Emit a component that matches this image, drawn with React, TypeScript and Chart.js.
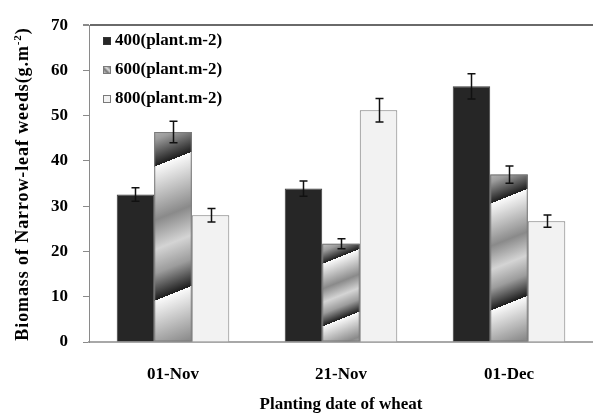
import React, { useEffect, useRef } from "react";
import { Chart, registerables } from "chart.js";

Chart.register(...registerables);

const categories = ["01-Nov", "21-Nov", "01-Dec"];
const seriesLabels = ["400(plant.m-2)", "600(plant.m-2)", "800(plant.m-2)"];
const s400 = [32.6, 33.9, 56.5];
const s600 = [46.4, 21.7, 37.0];
const s800 = [28.0, 51.2, 26.7];
const e400 = [1.5, 1.7, 2.8];
const e600 = [2.4, 1.1, 1.9];
const e800 = [1.5, 2.6, 1.35];
const yTicks = [0, 10, 20, 30, 40, 50, 60, 70];

const FONT = '"Liberation Serif", "Times New Roman", serif';
const profile: [number, string][] = [
  [0, "#fbfbfb"],
  [0.4, "#8a8a8a"],
  [0.62, "#d4d4d4"],
  [0.8, "#9c9c9c"],
  [1, "#1c1c1c"],
];

function stripeGradient(ctx: CanvasRenderingContext2D, xL: number, yT: number, w: number, h: number) {
  const slope = 0.4;
  const period = 0.64 * h;
  const uEdge = slope * (xL + w / 2) + yT + 0.13 * h;
  const uA = slope * xL + yT;
  const uB = slope * (xL + w) + yT + h;
  const kStart = Math.floor((uA - uEdge) / period);
  const kEnd = Math.ceil((uB - uEdge) / period);
  const uStart = uEdge + kStart * period;
  const uEnd = uEdge + kEnd * period;
  const c = (uEnd - uStart) / (slope * slope + 1);
  const g = ctx.createLinearGradient(0, uStart, c * slope, uStart + c);
  const n = kEnd - kStart;
  for (let k = 0; k < n; k++) {
    for (const [s, col] of profile) {
      g.addColorStop(Math.max(0, Math.min(1, (k + s) / n)), col);
    }
  }
  return g;
}

const errors = [e400, e600, e800];

const customPlugin = {
  id: "custom",
  afterDatasetDraw(chart: any, args: any) {
    if (args.index !== 1) return;
    const ctx = chart.ctx;
    const meta = chart.getDatasetMeta(1);
    meta.data.forEach((el: any) => {
      const { x, y, base, width } = el.getProps(["x", "y", "base", "width"], true);
      const xL = x - width / 2;
      const h = base - y;
      ctx.save();
      ctx.fillStyle = stripeGradient(ctx, xL, y, width, h);
      ctx.fillRect(xL, y, width, h);
      ctx.strokeStyle = "#7a7a7a";
      ctx.lineWidth = 1;
      ctx.strokeRect(xL + 0.5, y + 0.5, width - 1, h - 1);
      ctx.restore();
    });
  },
  afterDatasetsDraw(chart: any) {
    const ctx = chart.ctx;
    const yScale = chart.scales.y;
    ctx.save();
    ctx.strokeStyle = "#111";
    ctx.lineWidth = 1.5;
    chart.data.datasets.forEach((ds: any, di: number) => {
      const meta = chart.getDatasetMeta(di);
      meta.data.forEach((el: any, i: number) => {
        const v = ds.data[i];
        const e = errors[di][i];
        const yT = yScale.getPixelForValue(v + e);
        const yB = yScale.getPixelForValue(v - e);
        const x = Math.round(el.x) + 0.5;
        ctx.beginPath();
        ctx.moveTo(x, yT);
        ctx.lineTo(x, yB);
        ctx.moveTo(x - 4, yT);
        ctx.lineTo(x + 4, yT);
        ctx.moveTo(x - 4, yB);
        ctx.lineTo(x + 4, yB);
        ctx.stroke();
      });
    });
    ctx.restore();
  },
  afterDraw(chart: any) {
    const ctx = chart.ctx;
    ctx.save();
    // legend
    const lx = 103;
    const rows = [41, 70, 99];
    ctx.font = `bold 17px ${FONT}`;
    ctx.textBaseline = "middle";
    ctx.textAlign = "left";
    rows.forEach((ry, i) => {
      const bx = lx, by = ry - 4, bs = 8;
      if (i === 0) ctx.fillStyle = "#262626";
      else if (i === 1) {
        const g = ctx.createLinearGradient(bx, by + bs, bx + bs, by);
        g.addColorStop(0, "#eee");
        g.addColorStop(0.4, "#777");
        g.addColorStop(0.6, "#ddd");
        g.addColorStop(1, "#444");
        ctx.fillStyle = g;
      } else ctx.fillStyle = "#f2f2f2";
      ctx.fillRect(bx, by, bs, bs);
      ctx.strokeStyle = i === 0 ? "#333" : "#7a7a7a";
      ctx.lineWidth = 1;
      ctx.strokeRect(bx + 0.5, by + 0.5, bs - 1, bs - 1);
      ctx.fillStyle = "#000";
      ctx.fillText(seriesLabels[i], 115, ry);
    });
    // y title
    ctx.translate(22, 184);
    ctx.rotate(-Math.PI / 2);
    (ctx as any).letterSpacing = "0.9px";
    const main = "Biomass of Narrow-leaf weeds(g.m";
    const sup = "-2";
    const close = ")";
    const fMain = `bold 18px ${FONT}`;
    const fSup = `bold 11px ${FONT}`;
    ctx.font = fMain;
    const wMain = ctx.measureText(main).width;
    const wClose = ctx.measureText(close).width;
    ctx.font = fSup;
    const wSup = ctx.measureText(sup).width;
    const total = wMain + wSup + wClose;
    let cx = -total / 2;
    ctx.textAlign = "left";
    ctx.textBaseline = "alphabetic";
    ctx.fillStyle = "#000";
    ctx.font = fMain;
    ctx.fillText(main, cx, 6);
    cx += wMain;
    ctx.font = fSup;
    ctx.fillText(sup, cx, -1);
    cx += wSup;
    ctx.font = fMain;
    ctx.fillText(close, cx, 6);
    ctx.restore();
  },
};

export default function App() {
  const ref = useRef<HTMLCanvasElement>(null);
  useEffect(() => {
    if (!ref.current) return;
    const chart = new Chart(ref.current, {
      type: "bar",
      data: {
        labels: categories,
        datasets: [
          { label: seriesLabels[0], data: s400, backgroundColor: "#262626", borderColor: "#3a3a3a", borderWidth: 1 },
          { label: seriesLabels[1], data: s600, backgroundColor: "#bbbbbb", borderColor: "#7a7a7a", borderWidth: 1 },
          { label: seriesLabels[2], data: s800, backgroundColor: "#f2f2f2", borderColor: "#7a7a7a", borderWidth: 1 },
        ],
      },
      options: {
        animation: false,
        responsive: false,
        devicePixelRatio: 1,
        layout: { padding: { top: 20, left: 0, right: 0, bottom: 0 } },
        datasets: { bar: { categoryPercentage: 0.67, barPercentage: 1 } },
        plugins: { legend: { display: false }, tooltip: { enabled: false } },
        scales: {
          x: {
            grid: { display: false, drawTicks: false },
            border: { color: "#a8a8a8", width: 2 },
            ticks: { color: "#000", font: { family: FONT, size: 17, weight: "bold" }, padding: 22 },
            title: {
              display: true,
              text: "Planting date of wheat",
              color: "#000",
              font: { family: FONT, size: 17, weight: "bold", lineHeight: 1 },
              padding: { top: 0, bottom: 1 },
            },
            afterFit: (s: any) => { s.height = 72; },
          },
          y: {
            min: 0,
            max: 70,
            afterBuildTicks: (s: any) => { s.ticks = yTicks.map((v) => ({ value: v })); },
            grid: {
              color: (c: any) => (c.tick && c.tick.value === 70 ? "#6a6a6a" : "rgba(0,0,0,0)"),
              lineWidth: (c: any) => (c.tick && c.tick.value === 70 ? 2 : 1),
              tickColor: "#8a8a8a",
              tickLength: 6,
            },
            border: { color: "#8a8a8a", width: 1 },
            ticks: { color: "#000", font: { family: FONT, size: 17, weight: "bold" }, padding: 15 },
            afterFit: (s: any) => { s.width = 89; },
          },
        },
      },
      plugins: [customPlugin],
    });
    return () => chart.destroy();
  }, []);
  return (
    <div style={{ position: "absolute", left: 0, top: 0, width: 593, height: 414, background: "#fff" }}>
      <canvas ref={ref} width={593} height={414} style={{ display: "block" }} />
    </div>
  );
}
